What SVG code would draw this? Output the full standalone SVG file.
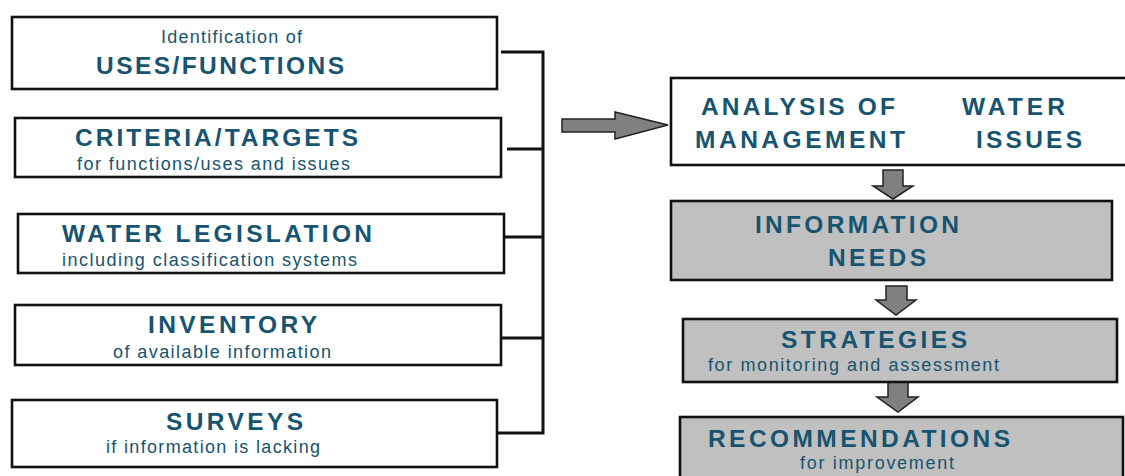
<svg xmlns="http://www.w3.org/2000/svg" width="1125" height="476" viewBox="0 0 1125 476">
<style>
.box{fill:#ffffff;stroke:#111111;stroke-width:2.6}
.gbox{fill:#c0c0c0;stroke:#111111;stroke-width:2.6}
.b{font-family:"Liberation Sans",Arial,sans-serif;font-weight:bold;font-size:24.5px;fill:#17546f}
.r{font-family:"Liberation Sans",Arial,sans-serif;font-size:18px;fill:#17546f}
.ln{stroke:#111111;stroke-width:3;fill:none}
.arr{fill:#808080;stroke:#222222;stroke-width:1.5;stroke-linejoin:miter}
</style>
<rect width="1125" height="476" fill="#ffffff"/>
<g id="connectors">
<path class="ln" d="M501 52H543V433H497M507 149H543M501 237H543M501 338H543"/>
<polygon class="arr" points="562,119 615,119 615,112 668,125 615,139 615,132 562,132"/>
<polygon class="arr" points="883,170 903,170 903,186 913,186 893,199 873,186 883,186"/>
<polygon class="arr" points="886,286 907,286 907,300 916,300 896,315 876,300 886,300"/>
<polygon class="arr" points="888,382 908,382 908,397 918,397 898,412 877,397 888,397"/>
</g>
<g id="uses">
<rect class="box" x="12" y="17" width="485" height="72"/>
<text class="r" x="161" y="43" textLength="141" lengthAdjust="spacing">Identification of</text>
<text class="b" x="96" y="74" textLength="248" lengthAdjust="spacing">USES/FUNCTIONS</text>
</g>
<g id="criteria">
<rect class="box" x="15" y="118" width="486" height="59"/>
<text class="b" x="75" y="146" textLength="283" lengthAdjust="spacing">CRITERIA/TARGETS</text>
<text class="r" x="77" y="170" textLength="273" lengthAdjust="spacing">for functions/uses and issues</text>
</g>
<g id="legislation">
<rect class="box" x="18" y="214" width="486" height="59"/>
<text class="b" x="62" y="242" textLength="310" lengthAdjust="spacing">WATER LEGISLATION</text>
<text class="r" x="62" y="266" textLength="295" lengthAdjust="spacing">including classification systems</text>
</g>
<g id="inventory">
<rect class="box" x="15" y="305" width="486" height="60"/>
<text class="b" x="148" y="333" textLength="169" lengthAdjust="spacing">INVENTORY</text>
<text class="r" x="113" y="358" textLength="218" lengthAdjust="spacing">of available information</text>
</g>
<g id="surveys">
<rect class="box" x="12" y="400" width="485" height="67"/>
<text class="b" x="166" y="430" textLength="137" lengthAdjust="spacing">SURVEYS</text>
<text class="r" x="106" y="453" textLength="214" lengthAdjust="spacing">if information is lacking</text>
</g>
<g id="analysis">
<rect class="box" x="671" y="78" width="470" height="87"/>
<text class="b" x="701" y="115" textLength="194" lengthAdjust="spacing">ANALYSIS OF</text>
<text class="b" x="962" y="115" textLength="103" lengthAdjust="spacing">WATER</text>
<text class="b" x="695" y="148" textLength="210" lengthAdjust="spacing">MANAGEMENT</text>
<text class="b" x="976" y="148" textLength="106" lengthAdjust="spacing">ISSUES</text>
</g>
<g id="information-needs">
<rect class="gbox" x="671" y="201" width="441" height="79"/>
<text class="b" x="755" y="233" textLength="204" lengthAdjust="spacing">INFORMATION</text>
<text class="b" x="828" y="266" textLength="98" lengthAdjust="spacing">NEEDS</text>
</g>
<g id="strategies">
<rect class="gbox" x="683" y="319" width="434" height="63"/>
<text class="b" x="781" y="348" textLength="186" lengthAdjust="spacing">STRATEGIES</text>
<text class="r" x="708" y="371" textLength="291" lengthAdjust="spacing">for monitoring and assessment</text>
</g>
<g id="recommendations">
<rect class="gbox" x="680" y="417" width="443" height="70"/>
<text class="b" x="708" y="447" textLength="302" lengthAdjust="spacing">RECOMMENDATIONS</text>
<text class="r" x="800" y="469" textLength="154" lengthAdjust="spacing">for improvement</text>
</g>
</svg>
